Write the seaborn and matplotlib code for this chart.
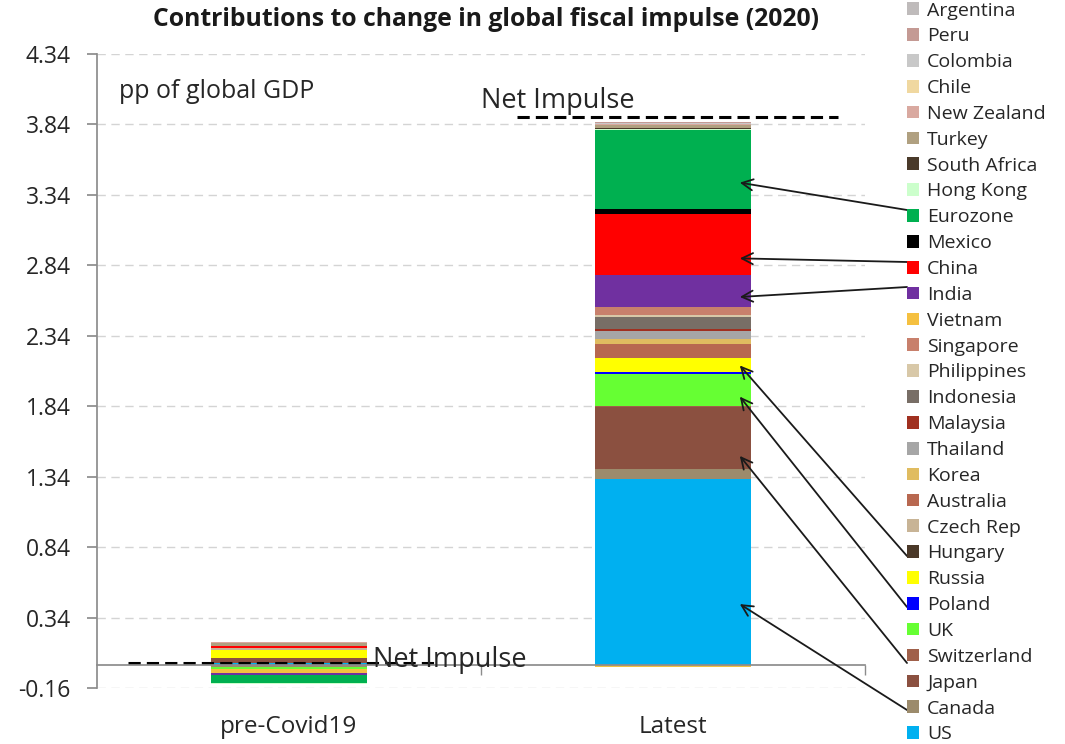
import numpy as np
import pandas as pd
import matplotlib
matplotlib.use("Agg")
import matplotlib.pyplot as plt
import seaborn as sns
from matplotlib.patches import Patch

# categories on the x axis
PERIODS = ["pre-Covid19", "Latest"]

# series in stacking order (first = bottom of the stack)
COUNTRIES = ["US", "Canada", "Japan", "Switzerland", "UK", "Poland", "Russia",
             "Hungary", "Czech Rep", "Australia", "Korea", "Thailand", "Malaysia",
             "Indonesia", "Philippines", "Singapore", "Vietnam", "India", "China",
             "Mexico", "Eurozone", "Hong Kong", "South Africa", "Turkey",
             "New Zealand", "Chile", "Colombia", "Peru", "Argentina"]

# contributions, pp of global GDP (pre-Covid19, Latest)
US = [0.020, 1.320]
CANADA = [-0.008, 0.075]
JAPAN = [0.035, 0.440]
SWITZERLAND = [0.0, 0.010]
UK = [-0.018, 0.225]
POLAND = [0.0, 0.010]
RUSSIA = [0.055, 0.105]
HUNGARY = [0.0, 0.0]
CZECH = [0.012, 0.0]
AUSTRALIA = [0.0, 0.100]
KOREA = [0.0, 0.030]
THAILAND = [0.0, 0.060]
MALAYSIA = [0.0, 0.010]
INDONESIA = [0.0, 0.085]
PHILIPPINES = [0.0, 0.015]
SINGAPORE = [0.0, 0.060]
VIETNAM = [-0.025, -0.010]
INDIA = [-0.016, 0.227]
CHINA = [0.016, 0.435]
MEXICO = [0.0, 0.035]
EUROZONE = [-0.060, 0.560]
HONG_KONG = [-0.005, 0.005]
SOUTH_AFRICA = [0.0, 0.010]
TURKEY = [0.020, 0.020]
NEW_ZEALAND = [0.010, 0.005]
CHILE = [0.0, 0.003]
COLOMBIA = [0.0, 0.005]
PERU = [0.0, 0.004]
ARGENTINA = [0.0, 0.003]

NET_IMPULSE = [0.020, 3.890]

COLORS = ["#00B0F0", "#9C8B6C", "#8B5040", "#A0604A", "#66FF33", "#0000FF", "#FFFF00",
          "#4A3828", "#C8B496", "#B86850", "#E0BC60", "#A6A6A6", "#A03020",
          "#786E66", "#D8C8A8", "#C8806C", "#F5C040", "#7030A0", "#FF0000",
          "#000000", "#00B050", "#CCFFCC", "#4A3A2A", "#B0A080",
          "#D9A9A0", "#F0D8A0", "#C8C8C8", "#C49A94", "#BFBBBB"]

YTICKS = [-0.16, 0.34, 0.84, 1.34, 1.84, 2.34, 2.84, 3.34, 3.84, 4.34]

VALUES = [US, CANADA, JAPAN, SWITZERLAND, UK, POLAND, RUSSIA, HUNGARY, CZECH,
          AUSTRALIA, KOREA, THAILAND, MALAYSIA, INDONESIA, PHILIPPINES, SINGAPORE,
          VIETNAM, INDIA, CHINA, MEXICO, EUROZONE, HONG_KONG, SOUTH_AFRICA, TURKEY,
          NEW_ZEALAND, CHILE, COLOMBIA, PERU, ARGENTINA]

# arrows: (series, position inside the layer, legend row the arrow starts from)
ARROWS = [("Eurozone", 0.33, 210), ("China", 0.27, 262), ("India", 0.31, 287),
          ("Russia", 0.47, 556), ("UK", 0.28, 607), ("Japan", 0.21, 663),
          ("US", 0.33, 710)]

sns.set_theme(style="white")
plt.rcParams['font.family'] = ['Open Sans', 'DejaVu Sans']

fig = plt.figure(figsize=(10.65, 7.44), dpi=100)
ax = fig.add_axes([97 / 1065, 1 - 688 / 744, 768 / 1065, 634 / 744])

df = pd.DataFrame(VALUES, index=COUNTRIES, columns=PERIODS)

pos_base = np.zeros(len(PERIODS))
neg_base = np.zeros(len(PERIODS))
layer = {}
for country, color in zip(COUNTRIES, COLORS):
    vals = df.loc[country].values.astype(float)
    bottom = np.where(vals >= 0, pos_base, neg_base)
    sns.barplot(x=PERIODS, y=vals, order=PERIODS, color=color, saturation=1,
                errorbar=None, width=0.405, bottom=bottom, linewidth=0, ax=ax)
    layer[country] = (bottom, vals)
    pos_base = pos_base + np.where(vals >= 0, vals, 0)
    neg_base = neg_base + np.where(vals < 0, vals, 0)

ax.set_xlim(-0.5, 1.5)
ax.set_ylim(-0.16, 4.34)
ax.set_yticks(YTICKS)
ax.set_yticklabels([f"{t:.2f}" for t in YTICKS])
ax.yaxis.grid(True, color="#D4D4D4", linestyle=(0, (6, 4)), linewidth=1)
ax.xaxis.grid(False)
ax.set_axisbelow(True)

for s in ["top", "right"]:
    ax.spines[s].set_visible(False)
ax.spines["left"].set_color("#8C8C8C")
ax.spines["bottom"].set_color("#8C8C8C")
ax.spines["bottom"].set_position(("data", 0))
ax.tick_params(axis="y", left=True, length=7, color="#8C8C8C", labelsize=16.5,
               labelcolor="#262626", pad=12)
ax.tick_params(axis="x", which="major", length=0, labelsize=17.5,
               labelcolor="#262626", pad=36)
ax.set_xticks([0.5, 1.5], minor=True)
ax.tick_params(axis="x", which="minor", bottom=True, length=7, color="#8C8C8C")
ax.set_xlabel("")
ax.set_ylabel("")

# net impulse markers
ax.plot([-0.42, 0.38], [NET_IMPULSE[0]] * 2, color="black", linestyle=(0, (4, 2)), lw=2.2)
ax.plot([0.594, 1.43], [NET_IMPULSE[1]] * 2, color="black", linestyle=(0, (4, 2)), lw=2.2)
ax.text(0.219, -0.01, "Net Impulse", fontsize=19.5, color="#262626",
        va="baseline", ha="left")
ax.text(0.50, 3.955, "Net Impulse", fontsize=19.5, color="#262626",
        va="baseline", ha="left")

ax.text(0.028, 0.96, "pp of global GDP", transform=ax.transAxes, fontsize=18,
        color="#262626", va="top", ha="left")
fig.text(486 / 1065, 1 - 19 / 744, "Contributions to change in global fiscal impulse (2020)",
         ha="center", va="center", fontsize=17.8, fontweight="bold", color="#1a1a1a")

# legend, top entry = last series
handles = [Patch(facecolor=c, edgecolor="none") for c in COLORS][::-1]
labels = COUNTRIES[::-1]
fig.legend(handles, labels, loc="upper left", bbox_to_anchor=(907 / 1065, 1 - 1.5 / 744),
           frameon=False, fontsize=14, labelspacing=0.404, handlelength=0.62,
           handleheight=0.62, handletextpad=0.42, borderpad=0, borderaxespad=0,
           labelcolor="#262626")

# arrows from legend to the layers
for country, frac, ty in ARROWS:
    bottom, vals = layer[country]
    hy = bottom[1] + frac * vals[1]
    ax.annotate("", xy=(1.174, hy), xycoords="data",
                xytext=(907, 744 - ty), textcoords="figure pixels",
                arrowprops=dict(arrowstyle="->", color="#1a1a1a", lw=1.3,
                                mutation_scale=20, shrinkA=0, shrinkB=0))

fig.savefig("out.png", dpi=100)
